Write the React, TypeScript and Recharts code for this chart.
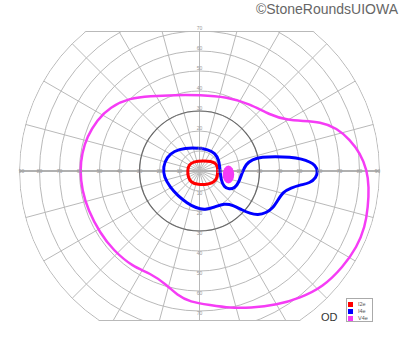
import React from 'react';
import {
  RadarChart,
  PolarGrid,
  ComposedChart,
  Line,
  XAxis,
  YAxis,
  ReferenceDot,
  ReferenceArea,
  Legend,
} from 'recharts';

// ---- data (degrees of visual field; x: + right, y: + up) ----
const MERIDIANS = [0, 15, 30, 45, 60, 75, 90, 105, 120, 135, 150, 165, 180, 195, 210, 225, 240, 255, 270, 285, 300, 315, 330, 345];
const RINGS = [10, 20, 30, 40, 50, 60, 70, 80, 90];
const STRONG_RING = [30];
const H_LABELS = [10, 20, 30, 40, 50, 60, 70, 80, 90];
const V_LABELS = [10, 20, 30, 40, 50, 60, 70];

const I2E: [number, number][] = [
  [9.15, -0.5], [9.0, 2.0], [8.25, 3.75], [5.75, 4.9], [1.75, 5.1], [-2.75, 4.75],
  [-5.25, 3.25], [-6.0, 0.5], [-5.75, -3.0], [-4.25, -5.75], [-0.75, -6.8],
  [3.75, -6.8], [7.25, -5.75], [8.75, -3.5],
];

const I4E: [number, number][] = [
  [9.75, 5.5], [10.25, 0.5], [10.75, -4.5], [12.25, -8.0], [14.75, -9.25], [17.75, -8.5],
  [19.75, -5.5], [21.25, -1.0], [23.25, 3.5], [26.25, 5.75], [31.25, 7.0], [37.75, 7.25],
  [45.25, 7.0], [51.25, 6.0], [55.25, 4.5], [57.75, 3.0], [59.25, 0], [58.25, -3.5],
  [55.25, -6.0], [50.25, -7.0], [45.75, -8.5], [41.75, -10.5], [39.25, -14.5], [36.75, -18.5],
  [33.25, -21.0], [29.25, -22.0], [25.25, -21.25], [21.25, -19.5], [16.75, -17.0],
  [12.25, -16.25], [7.75, -18.0], [2.75, -19.5], [-1.75, -18.5], [-6.25, -16.0],
  [-10.75, -12.5], [-14.75, -8.0], [-17.75, -3.0], [-18.25, 2.0], [-16.25, 7.0],
  [-12.75, 10.0], [-7.25, 11.5], [-0.75, 11.5], [4.25, 10.75], [7.75, 9.0],
];

const V4E: [number, number][] = [
  [-24.75, 37.5], [-12.25, 38.0], [0.25, 38.0], [13.75, 37.0], [25.25, 33.5], [35.25, 28.0],
  [43.75, 25.5], [51.75, 25.0], [60.25, 24.5], [68.75, 21.5], [75.25, 15.5], [80.25, 9.0],
  [83.75, 0.5], [84.75, -8.0], [84.25, -18.0], [82.75, -28.0], [78.75, -38.0], [71.75, -48.0],
  [61.75, -58.0], [50.25, -63.5], [38.75, -67.0], [25.25, -68.5], [15.25, -68.5], [5.25, -67.0],
  [-4.75, -65.5], [-11.25, -62.0], [-16.25, -57.0], [-24.75, -51.0], [-33.25, -48.0],
  [-43.25, -39.5], [-49.75, -31.0], [-55.75, -19.5], [-58.75, -9.5], [-59.75, 0.5],
  [-58.75, 9.0], [-56.25, 17.0], [-51.25, 25.5], [-44.75, 32.0], [-34.75, 36.5],
];

// V4e island (x1, x2, y1, y2 in degrees)
const V4E_ISLAND = { x1: 11.6, x2: 17.35, y1: -6.25, y2: 2.75 };

const FIELD_TOP = 70;    // chart cut at top (deg)
const FIELD_BOTTOM = 74.5; // chart cut at bottom (deg)

// ---- layout ----
const W = 400;
const H = 352;
const CX = 199.5;
const CY = 171;
const R = 180;
const MAX_ECC = 90;
const PX = R / MAX_ECC;

const RED = '#ff0000';
const BLUE = '#0000ff';
const MAGENTA = '#f53cf5';
const GRID = '#b9b9b9';

const toPts = (arr: [number, number][]) => arr.map(([x, y]) => ({ x, y }));

const renderLegend = (props: any) => {
  const payload = props.payload || [];
  return (
    <div
      style={{
        boxSizing: 'border-box',
        width: 27.5,
        height: 23.5,
        border: '1px solid #aaa',
        background: '#fff',
        padding: '1.5px 0 0 1.5px',
      }}
    >
      {payload.map((p: any) => (
        <div key={p.value} style={{ display: 'flex', alignItems: 'center', height: 7 }}>
          <div style={{ width: 5, height: 5, background: p.color, marginRight: 5 }} />
          <span style={{ fontSize: 5.5, color: '#555', lineHeight: '7px' }}>{p.value}</span>
        </div>
      ))}
    </div>
  );
};

export default function App() {
  const topY = CY - FIELD_TOP * PX;
  const botY = CY + FIELD_BOTTOM * PX;
  return (
    <div
      style={{
        position: 'absolute',
        left: 0,
        top: 0,
        width: W,
        height: H,
        background: '#fff',
        fontFamily: '"Liberation Sans", Arial, sans-serif',
        overflow: 'hidden',
      }}
    >
      {/* polar grid layer */}
      <div
        style={{
          position: 'absolute',
          left: 0,
          top: 0,
          width: W,
          height: H,
          clipPath: `circle(${R + 0.5}px at ${CX}px ${CY}px)`,
        }}
      >
        <div
          style={{
            position: 'absolute',
            left: 0,
            top: topY,
            width: W,
            height: botY - topY + 1,
            overflow: 'hidden',
            boxSizing: 'border-box',
            borderTop: `1px solid ${GRID}`,
            borderBottom: `1px solid ${GRID}`,
          }}
        >
          <div style={{ position: 'absolute', left: 0, top: -topY - 1 }}>
            <RadarChart
              width={W}
              height={H}
              cx={CX}
              cy={CY}
              outerRadius={R}
              data={MERIDIANS.map((m) => ({ m }))}
              margin={{ top: 0, right: 0, bottom: 0, left: 0 }}
            >
              <PolarGrid
                gridType="circle"
                polarAngles={MERIDIANS}
                polarRadius={RINGS.map((r) => r * PX)}
                stroke={GRID}
                strokeWidth={1}
              />
              <PolarGrid
                gridType="circle"
                polarAngles={[0, 180]}
                polarRadius={[]}
                stroke="#b0b0b0"
                strokeWidth={2}
              />
              <PolarGrid
                gridType="circle"
                radialLines={false}
                polarAngles={[]}
                polarRadius={STRONG_RING.map((r) => r * PX)}
                stroke="#6a6a6a"
                strokeWidth={1.2}
              />
            </RadarChart>
          </div>
        </div>
      </div>

      {/* isopters layer */}
      <div style={{ position: 'absolute', left: 0, top: 0 }}>
        <ComposedChart width={W} height={H} margin={{ top: 0, right: 0, bottom: 0, left: 0 }}>
          <XAxis type="number" dataKey="x" domain={[-CX / PX, (W - CX) / PX]} hide allowDataOverflow />
          <YAxis type="number" dataKey="y" domain={[(CY - H) / PX, CY / PX]} hide allowDataOverflow />
          {H_LABELS.map((v) => (
            <ReferenceDot
              key={'hl' + v}
              x={-(v === 90 ? 89 : v)}
              y={0}
              r={0}
              fill="none"
              stroke="none"
              label={{ value: String(v), position: 'center', fontSize: 5, fill: '#9a9a9a' }}
            />
          ))}
          {H_LABELS.map((v) => (
            <ReferenceDot
              key={'hr' + v}
              x={v === 90 ? 89 : v}
              y={0}
              r={0}
              fill="none"
              stroke="none"
              label={{ value: String(v), position: 'center', fontSize: 5, fill: '#9a9a9a' }}
            />
          ))}
          {V_LABELS.map((v) => (
            <ReferenceDot
              key={'vu' + v}
              x={0}
              y={v + 1.25}
              r={0}
              fill="none"
              stroke="none"
              label={{ value: String(v), position: 'center', fontSize: 5, fill: '#9a9a9a' }}
            />
          ))}
          {V_LABELS.map((v) => (
            <ReferenceDot
              key={'vd' + v}
              x={0}
              y={-v - 1.25}
              r={0}
              fill="none"
              stroke="none"
              label={{ value: String(v), position: 'center', fontSize: 5, fill: '#9a9a9a' }}
            />
          ))}
          <ReferenceArea
            x1={V4E_ISLAND.x1}
            x2={V4E_ISLAND.x2}
            y1={V4E_ISLAND.y1}
            y2={V4E_ISLAND.y2}
            shape={(p: any) => (
              <ellipse
                cx={p.x + p.width / 2}
                cy={p.y + p.height / 2}
                rx={p.width / 2}
                ry={p.height / 2}
                fill={MAGENTA}
              />
            )}
          />
          <Line
            data={toPts(I2E)}
            dataKey="y"
            name="I2e"
            type="basisClosed"
            stroke={RED}
            strokeWidth={3}
            dot={false}
            activeDot={false}
            isAnimationActive={false}
            legendType="square"
          />
          <Line
            data={toPts(I4E)}
            dataKey="y"
            name="I4e"
            type="basisClosed"
            stroke={BLUE}
            strokeWidth={3}
            dot={false}
            activeDot={false}
            isAnimationActive={false}
            legendType="square"
          />
          <Line
            data={toPts(V4E)}
            dataKey="y"
            name="V4e"
            type="basisClosed"
            stroke={MAGENTA}
            strokeWidth={2.5}
            dot={false}
            activeDot={false}
            isAnimationActive={false}
            legendType="square"
          />
          <Legend
            layout="vertical"
            align="center"
            verticalAlign="middle"
            content={renderLegend}
            wrapperStyle={{ left: 345.5, top: 298, width: 27.5, height: 23.5 }}
          />
        </ComposedChart>
      </div>

      <div
        style={{
          position: 'absolute',
          right: 2,
          top: 2,
          fontSize: 14,
          lineHeight: '14px',
          color: '#666',
          whiteSpace: 'nowrap',
        }}
      >
        ©StoneRoundsUIOWA
      </div>
      <div
        style={{
          position: 'absolute',
          left: 321,
          top: 311.5,
          fontSize: 11,
          lineHeight: '11px',
          color: '#333',
        }}
      >
        OD
      </div>
    </div>
  );
}
